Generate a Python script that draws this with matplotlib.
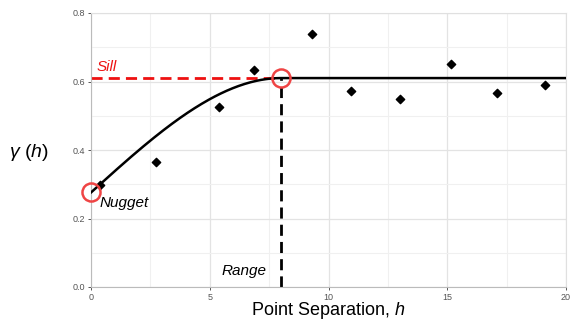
import numpy as np
import matplotlib
matplotlib.use("Agg")
import matplotlib.pyplot as plt

plt.rcParams['font.family'] = ['Liberation Sans', 'DejaVu Sans']
plt.rcParams['mathtext.fontset'] = 'custom'
plt.rcParams['mathtext.rm'] = 'Liberation Sans'
plt.rcParams['mathtext.it'] = 'Liberation Sans:italic'

# empirical semivariogram points
lag = [0.38, 2.74, 5.39, 6.86, 9.31, 10.95, 13.0, 15.16, 17.09, 19.1]
gamma = [0.298, 0.365, 0.526, 0.634, 0.739, 0.572, 0.549, 0.651, 0.566, 0.590]

# fitted spherical model parameters
nugget = 0.276
sill = 0.61
rng = 8.0
x_max = 20

xticks = [0, 5, 10, 15, 20]
yticks = [0.0, 0.2, 0.4, 0.6, 0.8]


def spherical(h):
    r = np.clip(h / rng, 0, 1)
    return nugget + (sill - nugget) * (1.5 * r - 0.5 * r ** 3)


fig = plt.figure(figsize=(5.71, 3.21), dpi=100)
ax = fig.add_axes([91 / 571, 1 - 287 / 321, 475 / 571, 274 / 321])

# grid
ax.set_xticks(xticks)
ax.set_yticks(yticks)
ax.set_xticks([2.5, 7.5, 12.5, 17.5], minor=True)
ax.set_yticks([0.1, 0.3, 0.5, 0.7], minor=True)
ax.grid(True, which='major', color='#e3e3e3', lw=0.9)
ax.grid(True, which='minor', color='#f0f0f0', lw=0.8)
ax.set_axisbelow(True)

hh = np.linspace(0, x_max, 400)
ax.plot(hh, spherical(hh), color='black', lw=1.8, zorder=3)

ax.plot([0, rng], [sill, sill], color='#ee1111', lw=2.0, ls=(0, (4, 2.2)), zorder=2)
ax.plot([rng, rng], [0, sill], color='black', lw=2.0, ls=(0, (4, 2.2)), zorder=2)

ax.scatter(lag, gamma, marker='D', s=18, color='black', zorder=4)

ax.plot([0, rng], [nugget, sill], ls='none', marker='o', ms=13, mfc='none',
        mec='#ef4444', mew=1.8, zorder=5, clip_on=False)

ax.text(0.25, 0.622, 'Sill', color='#ee1111', style='italic', fontsize=11,
        ha='left', va='bottom')
ax.text(0.38, 0.265, 'Nugget', color='black', style='italic', fontsize=11,
        ha='left', va='top')
ax.text(7.4, 0.047, 'Range', color='black', style='italic', fontsize=11,
        ha='right', va='center')

ax.set_xlim(0, x_max)
ax.set_ylim(0, 0.8)
ax.set_xticklabels([str(t) for t in xticks])
ax.set_yticklabels(['%.1f' % t for t in yticks])
ax.tick_params(which='major', labelsize=6.5, colors='#555555', length=2.5, width=0.7,
               pad=1.5)
ax.tick_params(which='minor', length=0)

for s in ['left', 'bottom']:
    ax.spines[s].set_color('#bbbbbb')
for s in ['top', 'right']:
    ax.spines[s].set_color('#e0e0e0')

ax.set_xlabel(r'Point Separation, $\mathit{h}$', fontsize=13)
ax.xaxis.set_label_coords(0.5, -0.049, transform=ax.transAxes)
ax.xaxis.label.set_va('top')
fig.text(29 / 571, 1 - 153 / 321, r'$\gamma$ $\mathit{(h)}$', fontsize=14,
         ha='center', va='center')

fig.savefig('out.png', dpi=100)
